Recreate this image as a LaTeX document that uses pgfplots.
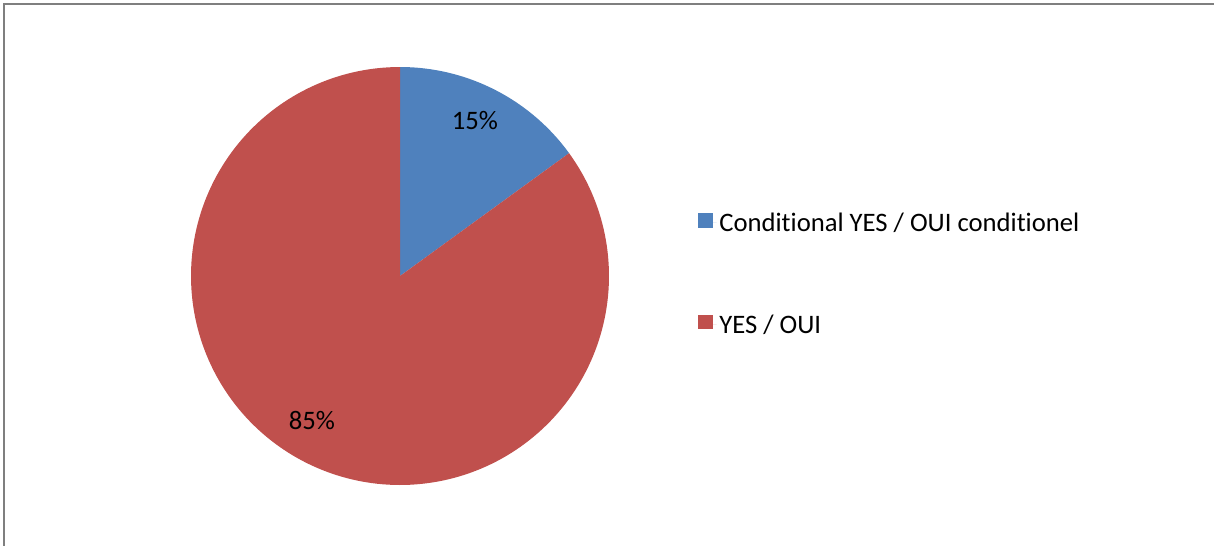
\documentclass[border=0pt]{standalone}
\usepackage{pgfplots}
\usepackage{pgfplotstable}
\usepackage{fontspec}
\setmainfont{Carlito}[Ligatures=NoCommon]
\pgfplotsset{compat=1.18}
\definecolor{pieblue}{HTML}{4F81BD}
\definecolor{piered}{HTML}{C0504D}
\definecolor{framegray}{HTML}{7F7F7F}
\pgfplotstableread{
label value
Conditional 15
Yes 85
}\piedata
\pgfplotstablegetelem{0}{value}\of\piedata \let\va\pgfplotsretval
\pgfplotstablegetelem{1}{value}\of\piedata \let\vb\pgfplotsretval
\pgfmathsetmacro\angA{360*\va/(\va+\vb)}
\begin{document}
\begin{tikzpicture}
\useasboundingbox (0,0) rectangle (910.5pt,409.5pt);
\begin{axis}[
  at={(0,0)}, anchor=south west,
  scale only axis, width=910.5pt, height=409.5pt,
  xmin=0, xmax=1214, ymin=0, ymax=546, y dir=reverse,
  hide axis, clip=false,
  legend style={at={(axis cs:698,210)}, anchor=north west, draw=none, fill=none,
    inner sep=0pt, outer sep=0pt, font=\fontsize{20pt}{24pt}\selectfont,
    row sep=57pt, nodes={inner sep=2pt}},
  legend cell align=left,
  legend image code/.code={\fill[#1] (0pt,-3.5pt) rectangle (11pt,7.5pt); \path (0pt,0pt) -- (14pt,0pt);},
]
\addplot[fill=pieblue, draw=none, domain=0:\angA, samples=80, variable=\t]
  ({400+209*sin(t)},{276-209*cos(t)}) -- (axis cs:400,276) -- cycle;
\addplot[fill=piered, draw=none, domain=\angA:360, samples=200, variable=\t]
  ({400+209*sin(t)},{276-209*cos(t)}) -- (axis cs:400,276) -- cycle;
\addlegendimage{fill=pieblue}
\addlegendentry{Conditional YES / OUI conditionel}
\addlegendimage{fill=piered}
\addlegendentry{YES / OUI}
\node[anchor=base, inner sep=0pt, font=\fontsize{20pt}{24pt}\selectfont] at (axis cs:475,129) {\va\%};
\node[anchor=base, inner sep=0pt, font=\fontsize{20pt}{24pt}\selectfont] at (axis cs:312,429) {\vb\%};
\draw[framegray, line width=1.5pt] (axis cs:3.5,546) -- (axis cs:3.5,3.5) -- (axis cs:1214,3.5);
\end{axis}
\end{tikzpicture}
\end{document}
